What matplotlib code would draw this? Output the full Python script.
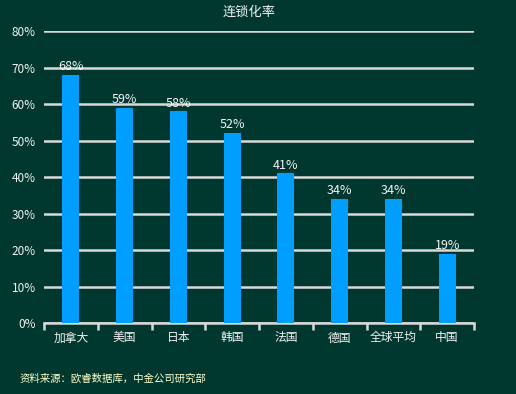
import numpy as np
import matplotlib.pyplot as plt

plt.rcParams['font.family'] = ['Noto Sans CJK SC', 'DejaVu Sans']

categories = ['加拿大', '美国', '日本', '韩国', '法国', '德国', '全球平均', '中国']
values = [68, 59, 58, 52, 41, 34, 34, 19]
yticks = [0, 10, 20, 30, 40, 50, 60, 70, 80]

bg = '#003830'
bar_color = '#009fff'
grid_color = '#d9d9d9'
text_color = '#f2f2f2'

fig = plt.figure(figsize=(5.16, 3.94), dpi=100, facecolor=bg)
ax = fig.add_axes([0.0853, 0.180, 0.8333, 0.741])
ax.set_facecolor(bg)

x = np.arange(len(categories))
ax.bar(x, values, width=0.32, color=bar_color, zorder=3)
for xi, v in zip(x, values):
    ax.text(xi, v + 0.5, f'{v}%', ha='center', va='bottom', color=text_color, fontsize=9, zorder=4)

ax.set_xlim(-0.5, len(categories) - 0.5)
ax.set_ylim(0, 80)
ax.set_yticks(yticks)
ax.set_yticklabels([f'{t}%' for t in yticks], color=text_color, fontsize=8.5)
ax.yaxis.grid(True, color=grid_color, linewidth=1.8, zorder=1)
ax.tick_params(axis='y', length=0, pad=6)

ax.set_xticks(x)
ax.set_xticklabels(categories, color=text_color, fontsize=8.5)
ax.tick_params(axis='x', length=0, pad=6)
ax.set_xticks(np.arange(len(categories) + 1) - 0.5, minor=True)
ax.tick_params(axis='x', which='minor', length=5, width=1.8, color=grid_color)

for s in ['left', 'right', 'top']:
    ax.spines[s].set_visible(False)
ax.spines['bottom'].set_color(grid_color)
ax.spines['bottom'].set_linewidth(1.8)

fig.text(0.483, 0.968, '连锁化率', ha='center', va='center', color=text_color, fontsize=9.5)
fig.text(0.038, 0.04, '资料来源：欧睿数据库，中金公司研究部', ha='left', va='center', color='#ffffcc', fontsize=7.5)

fig.savefig('out.png', dpi=100, facecolor=bg)
